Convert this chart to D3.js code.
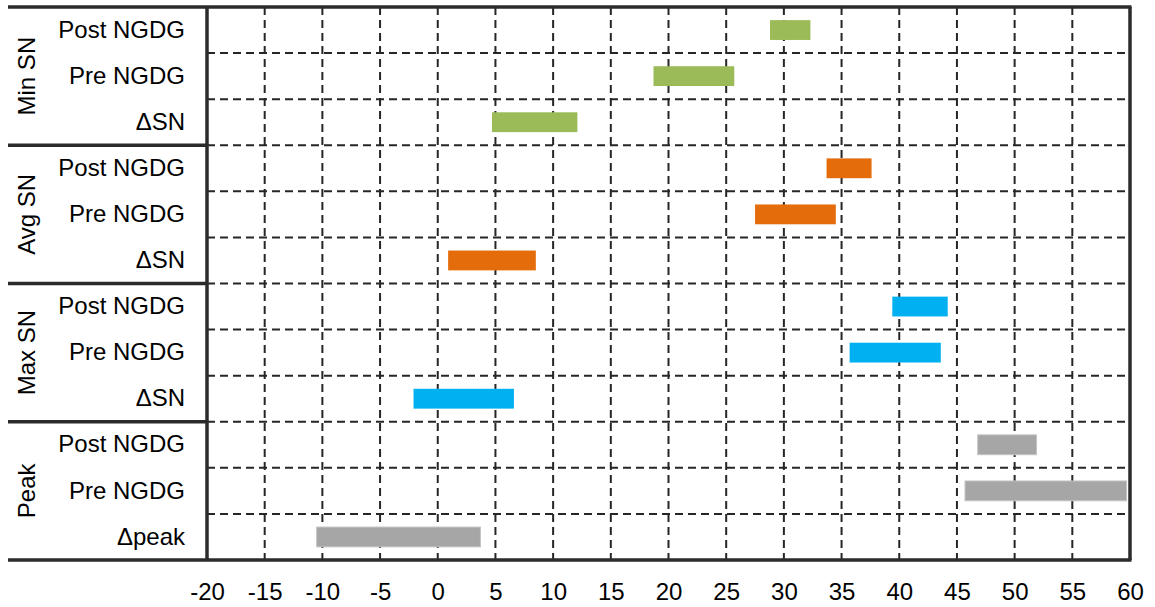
<!DOCTYPE html>
<html><head><meta charset="utf-8">
<script src="https://cdn.jsdelivr.net/npm/d3@7"></script>
<style>body{margin:0;background:#fff}svg{display:block}</style>
</head><body>
<svg id="c" width="1155" height="607"></svg>
<script>
const groups = ["Min SN", "Avg SN", "Max SN", "Peak"];
const rowLabels = ["Post NGDG", "Pre NGDG", "ΔSN", "Post NGDG", "Pre NGDG", "ΔSN", "Post NGDG", "Pre NGDG", "ΔSN", "Post NGDG", "Pre NGDG", "Δpeak"];
const rowGroup = ["Min SN","Min SN","Min SN","Avg SN","Avg SN","Avg SN","Max SN","Max SN","Max SN","Peak","Peak","Peak"];
const starts = [28.8, 18.7, 4.7, 33.7, 27.5, 0.9, 39.4, 35.7, -2.1, 46.8, 45.7, -10.5];
const ends   = [32.3, 25.7, 12.1, 37.6, 34.5, 8.5, 44.2, 43.6, 6.6, 51.9, 59.7, 3.7];
const xTicks = [-20, -15, -10, -5, 0, 5, 10, 15, 20, 25, 30, 35, 40, 45, 50, 55, 60];
const groupColors = ["#9BBB59", "#E46C0A", "#00B0F0", "#A6A6A6"];

const svg = d3.select("#c");
const L = 207, R = 1130, T = 7, B = 560, outerL = 8;
const font = "Liberation Sans, Arial, sans-serif";
const rows = d3.range(rowLabels.length);

const x = d3.scaleLinear().domain([-20, 60]).range([L, R]);
const y = d3.scaleBand().domain(rows).range([T, B]).padding(0);
const g = d3.scaleBand().domain(groups).range([T, B]).padding(0);
const color = d3.scaleOrdinal().domain(groups).range(groupColors);

const grid = svg.append("g").attr("stroke", "#262626").attr("stroke-width", 2).attr("stroke-dasharray", "8,5");
grid.selectAll("line.v").data(xTicks.slice(1, -1)).join("line")
  .attr("x1", d => x(d)).attr("x2", d => x(d)).attr("y1", T).attr("y2", B);
grid.selectAll("line.h").data(rows.slice(1)).join("line")
  .attr("x1", L).attr("x2", R).attr("y1", d => y(d)).attr("y2", d => y(d));

const bh = y.bandwidth() * 0.43;
svg.append("g").selectAll("rect").data(rows).join("rect")
  .attr("x", i => x(starts[i]))
  .attr("width", i => x(ends[i]) - x(starts[i]))
  .attr("y", i => y(i) + (y.bandwidth() - bh) / 2)
  .attr("height", bh)
  .attr("fill", i => color(rowGroup[i]))
  .attr("stroke", i => rowGroup[i] === "Peak" ? "#c4c4c4" : "none")
  .attr("stroke-width", 1);

// frame
const frame = svg.append("g").attr("stroke", "#2b2b2b").attr("stroke-width", 3.5).attr("fill", "none");
frame.append("line").attr("x1", outerL).attr("x2", R + 1.5).attr("y1", T).attr("y2", T);
frame.append("line").attr("x1", outerL).attr("x2", R + 1.5).attr("y1", B).attr("y2", B);
frame.append("line").attr("x1", L).attr("x2", L).attr("y1", T).attr("y2", B);
frame.append("line").attr("x1", R).attr("x2", R).attr("y1", T).attr("y2", B);
frame.selectAll("line.sep").data(groups.slice(1)).join("line")
  .attr("x1", outerL).attr("x2", L).attr("y1", d => g(d)).attr("y2", d => g(d));

// x axis
const xa = svg.append("g").attr("transform", `translate(0,${B})`)
  .call(d3.axisBottom(x).tickValues(xTicks).tickSize(0).tickPadding(23).tickFormat(d => String(d)));
xa.select(".domain").remove();
xa.selectAll("text").attr("font-family", font).attr("font-size", 24).attr("fill", "#000");

// row labels
const ya = svg.append("g").attr("transform", `translate(${L},0)`)
  .call(d3.axisLeft(y).tickSize(0).tickPadding(22).tickFormat(i => rowLabels[i]));
ya.select(".domain").remove();
ya.selectAll("text").attr("font-family", font).attr("font-size", 24).attr("fill", "#000");

// group labels
svg.append("g").selectAll("text").data(groups).join("text")
  .attr("transform", d => `translate(35,${g(d) + g.bandwidth() / 2}) rotate(-90)`)
  .attr("text-anchor", "middle")
  .attr("font-family", font).attr("font-size", 24).attr("fill", "#000")
  .text(d => d);
</script>
</body></html>
